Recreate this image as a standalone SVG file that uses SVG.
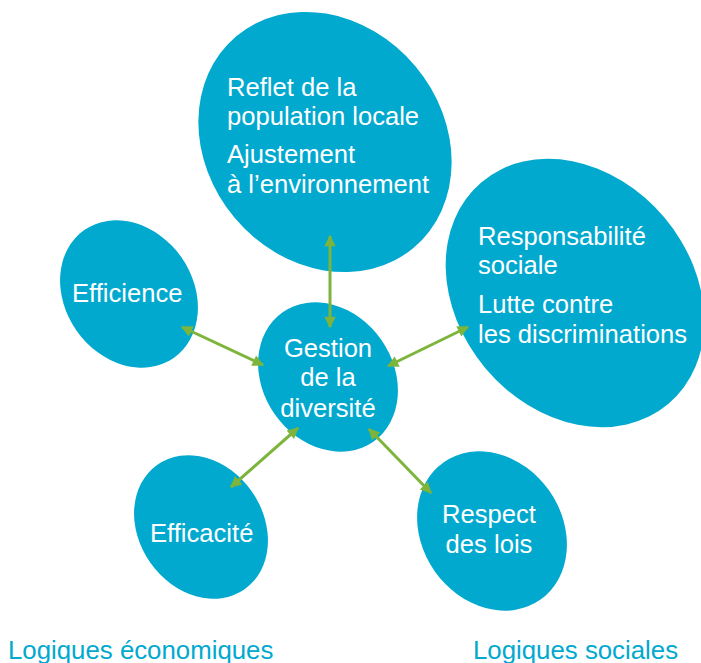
<svg xmlns="http://www.w3.org/2000/svg" width="701" height="663" viewBox="0 0 701 663">
<style>
.node{fill:#02a9cf}
.t{font-family:"Liberation Sans",Arial,sans-serif;font-size:25.6px;fill:#ffffff}
.c{text-anchor:middle}
.lbl{font-family:"Liberation Sans",Arial,sans-serif;font-size:25.8px;fill:#02a9cf}
.con{stroke:#7db53c;stroke-width:3;fill:none;marker-start:url(#ah);marker-end:url(#ah)}
</style>
<defs>
<marker id="ah" viewBox="0 0 10 10" refX="9" refY="5" markerWidth="5.5" markerHeight="3.8" orient="auto-start-reverse" markerUnits="strokeWidth">
<path d="M0,0 L10,5 L0,10 z" fill="#7db53c"/>
</marker>
</defs>
<rect width="701" height="663" fill="#ffffff"/>
<g id="node-top">
<ellipse class="node" cx="325" cy="142" rx="138" ry="118" transform="rotate(50 325 142)"/>
<text class="t" x="227" y="96">Reflet de la</text>
<text class="t" x="227" y="125">population locale</text>
<text class="t" x="227" y="163">Ajustement</text>
<text class="t" x="227" y="193">à l’environnement</text>
</g>
<g id="node-responsabilite">
<ellipse class="node" cx="575" cy="293" rx="145" ry="117" transform="rotate(50 575 293)"/>
<text class="t" x="478" y="245">Responsabilité</text>
<text class="t" x="478" y="274">sociale</text>
<text class="t" x="478" y="313">Lutte contre</text>
<text class="t" x="478" y="343">les discriminations</text>
</g>
<g id="node-efficience">
<ellipse class="node" cx="129" cy="294" rx="78" ry="64" transform="rotate(55 129 294)"/>
<text class="t" x="72" y="302">Efficience</text>
</g>
<g id="node-gestion">
<ellipse class="node" cx="328" cy="377" rx="79" ry="65" transform="rotate(55 328 377)"/>
<text class="t c" x="328" y="357">Gestion</text>
<text class="t c" x="328" y="386">de la</text>
<text class="t c" x="328" y="417">diversité</text>
</g>
<g id="node-efficacite">
<ellipse class="node" cx="201" cy="527" rx="76" ry="62" transform="rotate(55 201 527)"/>
<text class="t" x="150" y="542">Efficacité</text>
</g>
<g id="node-respect">
<ellipse class="node" cx="492" cy="531" rx="84" ry="70" transform="rotate(55 492 531)"/>
<text class="t c" x="489" y="523">Respect</text>
<text class="t c" x="489" y="553">des lois</text>
</g>
<g id="connectors">
<line class="con" x1="330" y1="236" x2="330" y2="327"/>
<line class="con" x1="182" y1="327" x2="263" y2="365"/>
<line class="con" x1="388" y1="366" x2="468" y2="327"/>
<line class="con" x1="298" y1="428" x2="231" y2="487"/>
<line class="con" x1="369" y1="429" x2="431" y2="493"/>
</g>
<g id="labels">
<text class="lbl" x="8" y="659">Logiques économiques</text>
<text class="lbl" x="473" y="659">Logiques sociales</text>
</g>
</svg>
